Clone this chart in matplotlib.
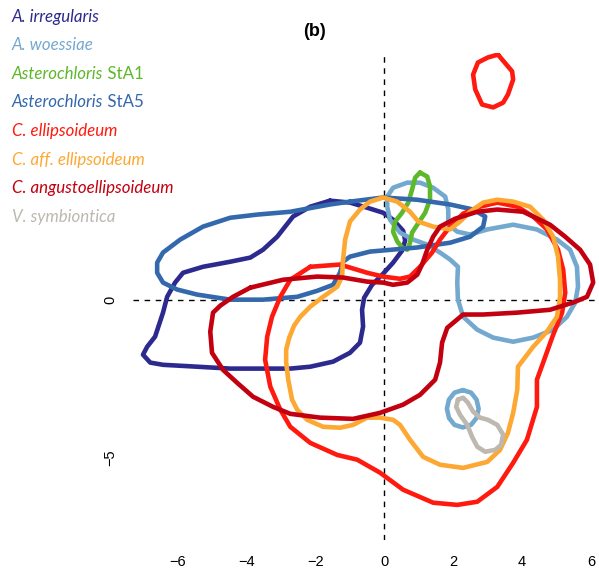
import matplotlib
matplotlib.use("Agg")
import matplotlib.pyplot as plt

# ---- data (data units) ----
irregularis_x = [-1.57, -0.99, -0.41, -0.03, 0.26, 0.55, 0.61, 0.52, 0.26, -0.03, -0.35, -0.58, -0.64, -0.61, -0.70, -0.99, -1.48, -2.14, -2.72, -4.46, -5.42, -6.41, -6.78, -6.99, -6.87, -6.64, -6.41, -6.29, -6.06, -5.83, -5.25, -4.46, -3.88, -3.51, -3.10, -2.64, -2.14]
irregularis_y = [3.13, 3.07, 2.88, 2.75, 2.53, 2.18, 1.87, 1.55, 1.17, 0.82, 0.47, 0.06, -0.32, -0.85, -1.36, -1.68, -1.96, -2.12, -2.18, -2.18, -2.12, -2.06, -1.99, -1.74, -1.49, -1.17, -0.41, 0.09, 0.54, 0.85, 1.04, 1.20, 1.33, 1.58, 1.99, 2.63, 2.94]

woessiae_x = [0.09, 0.26, 0.67, 1.04, 1.42, 1.77, 1.86, 1.86, 2.12, 2.49, 2.99, 3.74, 4.43, 5.01, 5.39, 5.59, 5.62, 5.54, 5.30, 4.90, 4.32, 3.74, 3.16, 2.70, 2.29, 2.14, 2.12, 2.14, 1.91, 1.62, 1.25, 0.84, 0.46, 0.17, 0.09]
woessiae_y = [3.26, 3.54, 3.70, 3.70, 3.54, 3.26, 2.85, 2.37, 2.15, 2.06, 2.22, 2.37, 2.22, 1.90, 1.58, 1.04, 0.41, -0.09, -0.54, -0.95, -1.20, -1.33, -1.20, -0.95, -0.54, 0.00, 0.54, 1.04, 1.27, 1.49, 1.74, 1.90, 2.12, 2.53, 2.94]
woessiae2_x = [2.28, 2.52, 2.68, 2.74, 2.68, 2.52, 2.28, 2.04, 1.88, 1.82, 1.88, 2.04]
woessiae2_y = [-2.86, -2.94, -3.16, -3.45, -3.74, -3.96, -4.04, -3.96, -3.74, -3.45, -3.16, -2.94]

sta1_x = [1.04, 1.25, 1.33, 1.33, 1.19, 0.96, 0.81, 0.75, 0.67, 0.52, 0.38, 0.26, 0.32, 0.52, 0.70, 0.81, 0.90]
sta1_y = [4.02, 3.89, 3.58, 3.16, 2.75, 2.37, 2.12, 1.80, 1.58, 1.65, 1.84, 2.15, 2.47, 2.75, 3.07, 3.48, 3.86]

sta5_x = [-0.99, -0.03, 0.96, 1.91, 2.58, 2.93, 2.87, 2.49, 1.91, 0.96, -0.41, -0.99, -1.19, -1.28, -1.48, -1.94, -2.52, -3.51, -4.46, -5.42, -6.00, -6.41, -6.58, -6.58, -6.41, -5.91, -5.25, -4.46, -3.68, -2.72, -1.57]
sta5_y = [3.10, 3.23, 3.16, 3.01, 2.85, 2.63, 2.31, 1.99, 1.80, 1.65, 1.52, 1.36, 1.20, 0.85, 0.47, 0.28, 0.09, 0.00, 0.00, 0.16, 0.32, 0.54, 0.85, 1.17, 1.49, 1.90, 2.31, 2.59, 2.69, 2.78, 3.01]

ellip_x = [-2.14, -1.28, -0.49, -0.03, 0.46, 0.75, 1.04, 1.39, 1.62, 1.91, 2.29, 2.78, 3.28, 3.86, 4.32, 4.72, 5.04, 5.19, 5.25, 5.16, 4.90, 4.61, 4.43, 4.43, 4.14, 3.74, 3.28, 2.70, 2.12, 1.42, 0.55, -0.12, -0.78, -1.36, -2.14, -2.72, -3.01, -3.30, -3.45, -3.39, -3.25, -3.01, -2.72]
ellip_y = [1.04, 1.11, 0.85, 0.73, 0.66, 0.73, 1.04, 1.49, 1.90, 2.31, 2.72, 2.94, 3.07, 2.94, 2.63, 2.22, 1.58, 0.95, 0.22, -0.41, -1.11, -1.99, -2.53, -3.39, -4.43, -5.16, -5.92, -6.39, -6.49, -6.42, -6.01, -5.47, -5.06, -4.91, -4.53, -4.02, -3.48, -2.75, -1.90, -1.17, -0.54, 0.09, 0.63]
ellip2_x = [3.30, 3.71, 3.74, 3.59, 3.45, 3.16, 2.84, 2.64, 2.58, 2.72, 3.01]
ellip2_y = [7.75, 7.22, 6.96, 6.49, 6.23, 6.08, 6.17, 6.65, 7.12, 7.50, 7.66]

aff_x = [-1.19, -1.13, -0.99, -0.70, -0.41, -0.03, 0.38, 0.75, 0.99, 1.42, 1.91, 2.20, 2.49, 2.87, 3.28, 3.74, 4.23, 4.61, 4.90, 5.04, 5.10, 5.10, 5.01, 4.72, 4.32, 3.88, 3.86, 3.74, 3.59, 3.36, 2.99, 2.29, 1.62, 1.13, 0.75, 0.46, 0.26, -0.12, -0.49, -0.90, -1.28, -1.77, -2.23, -2.52, -2.67, -2.78, -2.84, -2.84, -2.75, -2.61, -2.43, -2.14, -1.77, -1.36, -1.22]
aff_y = [1.27, 1.90, 2.47, 2.85, 3.10, 3.23, 3.10, 2.78, 2.47, 2.31, 2.22, 2.47, 2.78, 3.07, 3.16, 3.10, 2.94, 2.53, 1.99, 1.36, 0.63, 0.09, -0.54, -1.01, -1.49, -2.12, -2.85, -3.58, -4.21, -4.75, -5.13, -5.32, -5.22, -4.97, -4.43, -3.96, -3.80, -3.73, -3.73, -3.96, -4.05, -4.02, -3.80, -3.48, -3.16, -2.53, -1.99, -1.58, -1.20, -0.82, -0.54, -0.22, 0.09, 0.41, 0.73]

angusto_x = [-3.88, -2.93, -1.94, -1.19, -0.49, -0.03, 0.26, 0.67, 0.96, 1.10, 1.25, 1.42, 1.62, 2.06, 2.70, 3.28, 4.03, 4.81, 5.25, 5.68, 5.97, 6.06, 5.88, 5.48, 4.81, 3.86, 2.87, 2.29, 1.83, 1.68, 1.62, 1.48, 1.04, 0.55, -0.12, -0.90, -1.86, -2.72, -3.22, -3.80, -4.26, -4.67, -4.99, -5.04, -4.96, -4.75, -4.38]
angusto_y = [0.38, 0.63, 0.73, 0.70, 0.57, 0.54, 0.47, 0.54, 0.79, 1.11, 1.58, 1.99, 2.31, 2.56, 2.78, 2.85, 2.78, 2.37, 1.99, 1.58, 1.11, 0.54, 0.09, -0.09, -0.32, -0.41, -0.47, -0.47, -0.89, -1.36, -1.99, -2.53, -3.01, -3.32, -3.58, -3.77, -3.73, -3.61, -3.39, -3.07, -2.63, -2.22, -1.68, -1.01, -0.41, -0.19, 0.09]

symb_x = [2.14, 2.29, 2.43, 2.58, 2.78, 3.01, 3.28, 3.45, 3.39, 3.22, 2.93, 2.70, 2.55, 2.41, 2.20, 2.09]
symb_y = [-3.16, -3.10, -3.26, -3.54, -3.73, -3.80, -3.96, -4.27, -4.59, -4.75, -4.81, -4.65, -4.34, -3.96, -3.64, -3.39]

species = ["A. irregularis", "A. woessiae", "Asterochloris StA1", "Asterochloris StA5",
           "C. ellipsoideum", "C. aff. ellipsoideum", "C. angustoellipsoideum", "V. symbiontica"]
colors = ["#2C2A8E", "#74A9CF", "#5DB82A", "#3468AD", "#FF1A10", "#FDA833", "#C3000F", "#BDB8B0"]
# legend pieces: (italic part, regular part)
legend_parts = [("A. irregularis", ""), ("A. woessiae", ""), ("Asterochloris", " StA1"),
                ("Asterochloris", " StA5"), ("C. ellipsoideum", ""), ("C. aff. ellipsoideum", ""),
                ("C. angustoellipsoideum", ""), ("V. symbiontica", "")]

xticks = [-6, -4, -2, 0, 2, 4, 6]
yticks = [-5, 0]

curves = [
    [(irregularis_x, irregularis_y)],
    [(woessiae_x, woessiae_y), (woessiae2_x, woessiae2_y)],
    [(sta1_x, sta1_y)],
    [(sta5_x, sta5_y)],
    [(ellip_x, ellip_y), (ellip2_x, ellip2_y)],
    [(aff_x, aff_y)],
    [(angusto_x, angusto_y)],
    [(symb_x, symb_y)],
]

W, H = 599, 574
fig = plt.figure(figsize=(W / 100, H / 100), dpi=100)
L, R, T, B = 133, 598, 53, 540
ax = fig.add_axes([L / W, 1 - B / H, (R - L) / W, (B - T) / H])
ax.set_xlim(-7.28, 6.2)
ax.set_ylim(-7.6, 7.8)

ax.axhline(0, color="black", lw=1.0, ls=(0, (4, 4)), zorder=1)
ax.axvline(0, color="black", lw=1.0, ls=(0, (4, 4)), zorder=1)

for segs, c in zip(curves, colors):
    for xs, ys in segs:
        ax.plot(list(xs) + [xs[0]], list(ys) + [ys[0]], color=c, lw=3.3,
                solid_joinstyle="round", solid_capstyle="round", zorder=2)

for s in ax.spines.values():
    s.set_visible(False)
ax.set_xticks(xticks)
ax.set_yticks(yticks)
ax.set_xticklabels([str(v).replace("-", "\u2212") for v in xticks])
ax.set_yticklabels([str(v).replace("-", "\u2212") for v in yticks], rotation=90, va="center")
ax.tick_params(length=0, labelsize=10.5, pad=11)
for lab in ax.get_xticklabels() + ax.get_yticklabels():
    lab.set_family("Liberation Sans")

fig.text(314 / W, 1 - 32 / H, "(b)", ha="center", va="center", fontsize=13,
         fontweight="bold", family="Liberation Sans")

ys_leg = [17, 45, 74, 102, 131, 160, 188, 217]
for (it, reg), c, yp in zip(legend_parts, colors, ys_leg):
    t1 = fig.text(12 / W, 1 - yp / H, it, ha="left", va="center", fontsize=12.2,
                  style="italic", color=c, family="Lato")
    if reg:
        ax.annotate(reg, xy=(1, 0.5), xycoords=t1, ha="left", va="center",
                    fontsize=12.2, color=c, family="Lato", annotation_clip=False)

fig.savefig("out.png", dpi=100)
